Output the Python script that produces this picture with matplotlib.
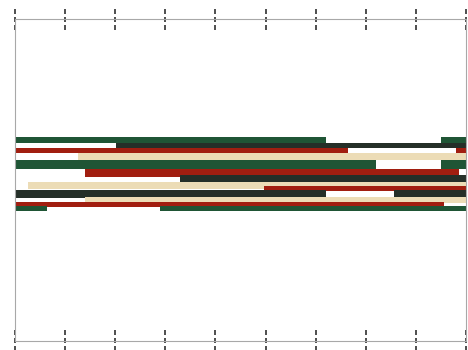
import matplotlib
matplotlib.use("Agg")
import matplotlib.pyplot as plt
import matplotlib.transforms as mtransforms

# colour names used by the segments
palette = {
    "green": "#1f5535",
    "dark": "#252f28",
    "red": "#a11e10",
    "cream": "#ecdcb6",
}

# one entry per segment, drawn in this order (later ones sit on top)
seg_color = ["green", "green", "dark", "red", "red", "cream", "green", "green",
             "red", "dark", "cream", "red", "dark", "dark", "cream", "red",
             "green", "green"]
seg_start = [0, 850, 202, 0, 880, 126, 0, 850,
             140, 330, 26, 496, 0, 756, 140, 0,
             0, 290]
seg_end = [620, 900, 900, 664, 900, 900, 720, 900,
           886, 900, 900, 900, 620, 900, 900, 856,
           64, 900]
seg_low = [198, 198, 193, 188, 188, 181, 172, 172,
           164, 157, 152, 150, 143, 143, 138, 134,
           130, 130]
seg_high = [204, 204, 198, 193, 193, 188, 181, 181,
            172, 166, 159, 155, 151, 151, 144, 139,
            135, 135]

tick_values = [0, 100, 200, 300, 400, 500, 600, 700, 800, 900]

plt.rcParams["lines.scale_dashes"] = False

fig = plt.figure(figsize=(4.68, 3.5), dpi=100)
ax = fig.add_axes([15 / 468, 1 - 341 / 350, 451 / 468, 322 / 350])

for c, s, e, lo, hi in zip(seg_color, seg_start, seg_end, seg_low, seg_high):
    ax.barh(lo, e - s, height=hi - lo, left=s, align="edge",
            color=palette[c], linewidth=0)

ax.set_xlim(0, 900)
ax.set_ylim(0, 322)
ax.set_xticks([])
ax.set_yticks([])
for sp in ax.spines.values():
    sp.set_color("#a8a8a8")
    sp.set_linewidth(0.8)

# dashed ticks crossing the top and bottom axis lines
trans = mtransforms.blended_transform_factory(ax.transData, ax.transAxes)
dash = (0, (3.6, 2.16))
for t in tick_values:
    ax.plot([t, t], [1 + 10 / 322, 1 - 11 / 322], transform=trans, clip_on=False,
            color="#404040", lw=1.3, linestyle=dash, solid_capstyle="butt",
            dash_capstyle="butt")
    ax.plot([t, t], [11 / 322, -10 / 322], transform=trans, clip_on=False,
            color="#404040", lw=1.3, linestyle=dash, solid_capstyle="butt",
            dash_capstyle="butt")

fig.savefig("out.png", dpi=100)
